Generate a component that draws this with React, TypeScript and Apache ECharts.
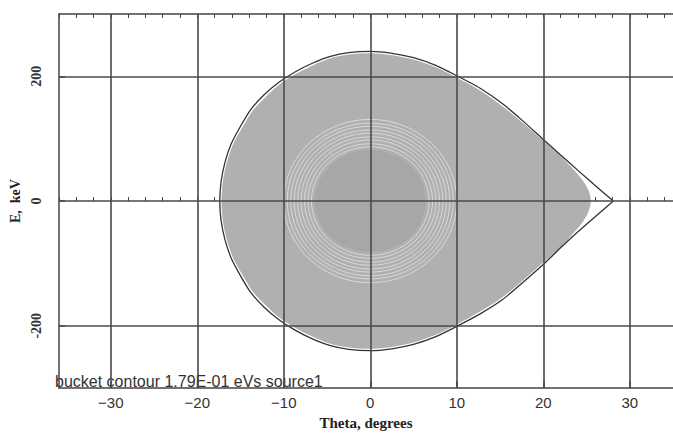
import React, { useEffect, useRef } from "react";
import * as echarts from "echarts";

// Separatrix (bucket contour): theta (deg), E (keV)
const sepTheta = [28.1, 26.0, 24.1, 22.0, 19.9, 17.6, 15.3, 12.7, 10.0, 7.5, 5.0, 2.5, 0, -2.5, -4.6, -6.7, -8.7, -10.6, -12.3, -13.8, -15.0, -16.1, -16.8, -17.25, -17.4,
  -17.25, -16.8, -16.1, -15.0, -13.8, -12.3, -10.6, -8.7, -6.7, -4.6, -2.5, 0, 2.5, 5.0, 7.5, 10.0, 12.7, 15.3, 17.6, 19.9, 22.0, 24.1, 26.0, 28.1];
const sepE = [0, 25, 48, 74, 100, 129, 156, 181, 201, 218, 230, 237, 240, 238, 232, 221, 207, 190, 170, 147, 120, 91, 62, 31, 0,
  -31, -62, -91, -120, -147, -170, -190, -207, -221, -232, -238, -240, -237, -230, -218, -201, -181, -158, -131, -103, -75, -48, -25, 0];

// Edge of the particle-filled region
const partTheta = [25.5, 25.2, 24.4, 23.2, 21.8, 19.8, 17.5, 15.2, 12.6, 10.0, 7.5, 5.0, 2.5, 0, -2.5, -4.6, -6.6, -8.6, -10.5, -12.1, -13.6, -14.8, -15.9, -16.6, -17.05, -17.2,
  -17.05, -16.6, -15.9, -14.8, -13.6, -12.1, -10.5, -8.6, -6.6, -4.6, -2.5, 0, 2.5, 5.0, 7.5, 10.0, 12.6, 15.2, 17.5, 19.8, 21.8, 23.2, 24.4, 25.2];
const partE = [0, 18, 36, 55, 75, 99, 127, 153, 178, 198, 215, 227, 234, 237, 235, 229, 218, 204, 187, 167, 145, 118, 90, 61, 31, 0,
  -31, -61, -90, -118, -145, -167, -187, -204, -218, -229, -235, -237, -234, -227, -215, -198, -178, -155, -129, -101, -77, -56, -37, -18];

// Concentric closed trajectories around the centre (half-widths)
const ringTheta = [6.8, 7.2, 7.6, 8.0, 8.4, 8.8, 9.2, 9.6, 10.0];
const ringE = [87, 92, 98, 103, 109, 114, 120, 125, 131];

// Dense central core
const coreTheta = [6.4];
const coreE = [82];

const xMajor = [-30, -20, -10, 0, 10, 20, 30];
const yMajor = [-200, 0, 200];
const yMinor = [-100, 100];

const gridX = [-30, -20, -10, 0, 10, 20, 30];
const gridY = [-200, 0, 200];

const titleText = "bucket contour 1.79E-01 eVs source1";

export default function App() {
  const ref = useRef<HTMLDivElement>(null);
  useEffect(() => {
    if (!ref.current) return;
    const chart = echarts.init(ref.current, null, { renderer: "svg" });
    const axisColor = "#444";
    const sansFont = "Liberation Sans";
    const serifFont = "Liberation Serif";
    const minusFmt = (v: number) => (v < 0 ? "\u2212" + Math.abs(v) : String(v));

    const option: any = {
      animation: false,
      backgroundColor: "#fff",
      grid: { left: 54, right: -2, top: 14, bottom: 42, show: false },
      xAxis: [
        {
          type: "value", min: -36, max: 35, position: "bottom",
          axisLine: { show: true, onZero: false, lineStyle: { color: axisColor, width: 1.5 } },
          axisTick: { show: true, inside: true, length: 7, customValues: xMajor, lineStyle: { color: axisColor, width: 1.5 } },
          axisLabel: { customValues: xMajor, formatter: minusFmt, color: "#333", fontFamily: sansFont, fontSize: 15, margin: 7 },
          splitLine: { show: false },
          name: "Theta, degrees", nameLocation: "middle", nameGap: 23,
          nameTextStyle: { fontFamily: serifFont, fontWeight: "bold", fontSize: 15, color: "#222" },
        },
        {
          type: "value", min: -36, max: 35, interval: 2, position: "bottom",
          axisLine: { show: false }, axisLabel: { show: false }, splitLine: { show: false },
          axisTick: { show: true, inside: true, length: 4, lineStyle: { color: axisColor, width: 1 } },
        },
        {
          type: "value", min: -36, max: 35, interval: 2, position: "top",
          axisLine: { show: true, onZero: false, lineStyle: { color: axisColor, width: 1.5 } },
          axisLabel: { show: false }, splitLine: { show: false },
          axisTick: { show: true, inside: true, length: 4, lineStyle: { color: axisColor, width: 1 } },
        },
      ],
      yAxis: [
        {
          type: "value", min: -300, max: 300, position: "left",
          axisLine: { show: true, onZero: false, lineStyle: { color: axisColor, width: 1.5 } },
          axisTick: { show: true, inside: true, length: 6, customValues: yMajor, lineStyle: { color: axisColor, width: 1.5 } },
          axisLabel: { customValues: yMajor, rotate: 90, color: "#333", fontFamily: serifFont, fontWeight: "bold", fontSize: 14, margin: 15 },
          splitLine: { show: false },
          name: "E,  keV", nameLocation: "middle", nameRotate: 90, nameGap: 35,
          nameTextStyle: { fontFamily: serifFont, fontWeight: "bold", fontSize: 14, color: "#222" },
        },
        {
          type: "value", min: -300, max: 300, position: "left",
          axisLine: { show: false }, axisLabel: { show: false }, splitLine: { show: false },
          axisTick: { show: true, inside: true, length: 3, customValues: yMinor, lineStyle: { color: axisColor, width: 1 } },
        },
      ],
      graphic: [
        {
          type: "text", left: 55, top: 373, silent: true,
          style: { text: titleText, fontFamily: sansFont, fontSize: 16, fill: "#333" },
        },
      ],
      series: [
        {
          type: "custom", name: "particles", xAxisIndex: 0, yAxisIndex: 0,
          data: [[0, 0]], silent: true, clip: true,
          renderItem: (params: any, api: any) => {
            const pts = partTheta.map((t, i) => api.coord([t, partE[i]]));
            return { type: "polygon", shape: { points: pts, smooth: 0.3 }, style: { fill: "#b0b0b0", stroke: "none" } };
          },
        },
        {
          type: "custom", name: "rings", xAxisIndex: 0, yAxisIndex: 0,
          data: ringTheta.map((t, i) => [t, ringE[i]]), silent: true,
          renderItem: (params: any, api: any) => {
            const c = api.coord([0, 0]);
            const s = api.size([api.value(0), api.value(1)]);
            return { type: "ellipse", shape: { cx: c[0], cy: c[1], rx: s[0], ry: s[1] }, style: { fill: "none", stroke: "#e6e6e6", lineWidth: 1, opacity: 0.75 } };
          },
        },
        {
          type: "custom", name: "core", xAxisIndex: 0, yAxisIndex: 0,
          data: coreTheta.map((t, i) => [t, coreE[i]]), silent: true,
          renderItem: (params: any, api: any) => {
            const c = api.coord([0, 0]);
            const s = api.size([api.value(0), api.value(1)]);
            return { type: "ellipse", shape: { cx: c[0], cy: c[1], rx: s[0], ry: s[1] }, style: { fill: "#a7a7a7", stroke: "none" } };
          },
        },
        {
          type: "line", name: "separatrix", xAxisIndex: 0, yAxisIndex: 0,
          data: sepTheta.map((t, i) => [t, sepE[i]]),
          smooth: 0.2, showSymbol: false, symbol: "none", silent: true,
          lineStyle: { color: "#333", width: 1.3 },
          markLine: {
            silent: true, symbol: "none", label: { show: false },
            lineStyle: { color: "#4a4a4a", width: 1.6, type: "solid" },
            data: [...gridX.map((v) => ({ xAxis: v })), ...gridY.map((v) => ({ yAxis: v }))],
          },
        },
      ],
    };
    chart.setOption(option);
    return () => chart.dispose();
  }, []);
  return <div ref={ref} style={{ position: "fixed", left: 0, top: 0, width: 673, height: 435 }} />;
}
